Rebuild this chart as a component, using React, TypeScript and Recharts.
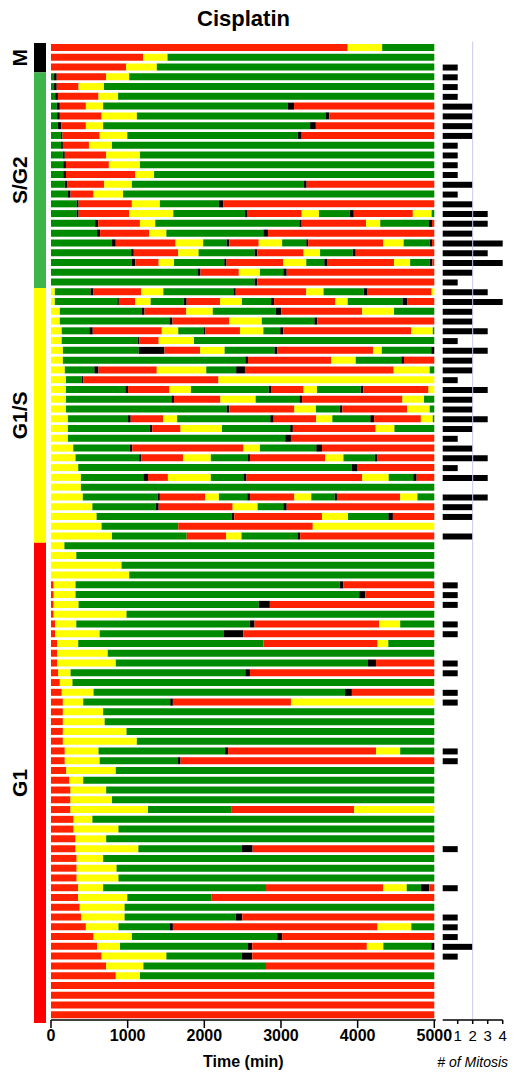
import { BarChart, Bar, XAxis, YAxis, Cell, ReferenceLine } from "recharts";

// each track: list of [phase, end time in min]
type Seg = [string, number];

const TIME_TICKS = [0, 1000, 2000, 3000, 4000, 5000];
const MITOSIS_TICKS = [1, 2, 3, 4];

const PHASE_COLORS: Record<string, string> = {
  R: "#FF2200",
  Y: "#FFFF00",
  G: "#008A00",
  K: "#000000",
};

const groupNames = ["M", "S/G2", "G1/S", "G1"];
const groupColors = ["#000000", "#3DB54A", "#FFFF00", "#FF0000"];

const mTracks: Seg[][] = [
  [["R", 3870], ["Y", 4320], ["G", 5000]],
  [["R", 1200], ["Y", 1520], ["G", 5000]],
  [["R", 980], ["Y", 1380], ["G", 5000]],
];

const sg2Tracks: Seg[][] = [
  [["G", 40], ["K", 75], ["R", 720], ["Y", 1020], ["G", 5000]],
  [["G", 40], ["K", 75], ["R", 360], ["Y", 690], ["G", 5000]],
  [["G", 55], ["K", 90], ["R", 620], ["Y", 875], ["G", 5000]],
  [["G", 75], ["K", 115], ["R", 455], ["Y", 680], ["G", 3090], ["K", 3170], ["R", 5000]],
  [["G", 80], ["K", 115], ["R", 660], ["Y", 1120], ["G", 3580], ["K", 3630], ["R", 5000]],
  [["G", 90], ["K", 135], ["R", 455], ["Y", 680], ["G", 3380], ["K", 3455], ["R", 5000]],
  [["G", 130], ["K", 150], ["R", 635], ["Y", 995], ["G", 3220], ["K", 3270], ["R", 5000]],
  [["G", 130], ["K", 155], ["R", 495], ["Y", 795], ["G", 5000]],
  [["G", 155], ["K", 180], ["R", 720], ["Y", 1160], ["G", 5000]],
  [["G", 160], ["K", 195], ["R", 755], ["Y", 1160], ["G", 5000]],
  [["G", 160], ["K", 195], ["R", 1100], ["Y", 1345], ["G", 5000]],
  [["G", 180], ["K", 215], ["R", 695], ["Y", 1055], ["G", 3300], ["K", 3335], ["R", 5000]],
  [["G", 215], ["K", 255], ["R", 555], ["Y", 940], ["G", 5000]],
  [["G", 335], ["K", 360], ["R", 1055], ["Y", 1420], ["G", 2190], ["K", 2250], ["R", 5000]],
  [["G", 335], ["K", 360], ["R", 1020], ["Y", 1595], ["G", 2530], ["K", 2565], ["R", 3270], ["Y", 3495], ["G", 3895], ["K", 3950], ["R", 4720], ["Y", 4965], ["G", 5000]],
  [["G", 575], ["K", 615], ["R", 1160], ["Y", 1360], ["G", 3240], ["K", 3270], ["R", 4110], ["Y", 4295], ["G", 4930], ["K", 4970], ["R", 5000]],
  [["G", 600], ["K", 640], ["R", 1280], ["Y", 1505], ["G", 2770], ["K", 2830], ["R", 5000]],
  [["G", 795], ["K", 845], ["R", 1625], ["Y", 1985], ["G", 2290], ["K", 2325], ["R", 2710], ["Y", 3015], ["G", 3330], ["K", 3355], ["R", 4335], ["Y", 4600], ["G", 4940], ["K", 4970], ["R", 5000]],
  [["G", 1045], ["K", 1080], ["R", 1660], ["Y", 1925], ["G", 2655], ["K", 2690], ["R", 3295], ["Y", 3510], ["G", 3935], ["K", 3975], ["R", 5000]],
  [["G", 1055], ["K", 1100], ["R", 1405], ["Y", 1605], ["G", 2260], ["K", 2290], ["R", 3030], ["Y", 3330], ["G", 3565], ["K", 3600], ["R", 4475], ["Y", 4685], ["G", 4940], ["K", 4975], ["R", 5000]],
  [["G", 1910], ["K", 1950], ["R", 2450], ["Y", 2725], ["G", 3030], ["K", 3075], ["R", 5000]],
  [["G", 2655], ["K", 2690], ["R", 5000]],
];

const g1sTracks: Seg[][] = [
  [["Y", 50], ["G", 515], ["K", 555], ["R", 1175], ["Y", 1465], ["G", 2380], ["K", 2410], ["R", 3330], ["Y", 3555], ["G", 4080], ["K", 4130], ["R", 4965], ["Y", 5000]],
  [["Y", 50], ["G", 865], ["K", 885], ["R", 1100], ["Y", 1300], ["G", 1730], ["K", 1770], ["R", 2205], ["Y", 2490], ["G", 2870], ["K", 2910], ["R", 3710], ["Y", 3870], ["G", 4585], ["K", 4645], ["R", 5000]],
  [["Y", 115], ["G", 1180], ["K", 1220], ["R", 1765], ["Y", 2110], ["G", 2930], ["K", 3005], ["R", 4060], ["Y", 4475], ["G", 5000]],
  [["Y", 115], ["G", 1545], ["K", 1585], ["R", 2325], ["Y", 2750], ["G", 3435], ["K", 3475], ["R", 5000]],
  [["Y", 140], ["G", 500], ["K", 545], ["R", 1445], ["Y", 1660], ["G", 1990], ["K", 2015], ["R", 2465], ["Y", 2770], ["G", 2990], ["K", 3030], ["R", 4700], ["Y", 4980], ["G", 5000]],
  [["Y", 140], ["G", 1130], ["K", 1150], ["R", 1405], ["Y", 1865], ["G", 5000]],
  [["Y", 155], ["G", 1145], ["K", 1480], ["R", 1945], ["Y", 2265], ["G", 2915], ["K", 2950], ["R", 4200], ["Y", 4315], ["G", 4960], ["K", 5000]],
  [["Y", 155], ["G", 2535], ["K", 2570], ["R", 3655], ["Y", 3975], ["G", 4570], ["K", 4605], ["R", 5000]],
  [["Y", 180], ["G", 565], ["K", 620], ["R", 1380], ["Y", 2025], ["G", 2415], ["K", 2530], ["R", 4470], ["Y", 4940], ["G", 5000]],
  [["Y", 195], ["G", 400], ["K", 420], ["R", 2185], ["Y", 5000]],
  [["Y", 195], ["G", 970], ["K", 1005], ["R", 1545], ["Y", 1825], ["G", 2840], ["K", 2870], ["R", 3295], ["Y", 3470], ["G", 4040], ["K", 4075], ["R", 4925], ["Y", 5000]],
  [["Y", 195], ["G", 1570], ["K", 1605], ["R", 2210], ["Y", 2670], ["G", 3240], ["K", 3275], ["R", 4585], ["Y", 4865], ["G", 5000]],
  [["Y", 195], ["G", 2290], ["K", 2325], ["R", 3175], ["Y", 3455], ["G", 3765], ["K", 3800], ["R", 4645], ["Y", 4940], ["G", 5000]],
  [["Y", 220], ["G", 1005], ["K", 1040], ["R", 1465], ["Y", 1645], ["G", 2860], ["K", 2905], ["R", 3460], ["Y", 3670], ["G", 4165], ["K", 4215], ["R", 4825], ["Y", 4980], ["G", 5000]],
  [["Y", 220], ["G", 1290], ["K", 1320], ["R", 1690], ["Y", 2230], ["G", 3120], ["K", 3155], ["R", 4235], ["Y", 4480], ["G", 5000]],
  [["Y", 220], ["G", 3055], ["K", 3130], ["R", 5000]],
  [["Y", 290], ["G", 1025], ["K", 1060], ["R", 2510], ["Y", 2725], ["G", 3460], ["K", 3535], ["R", 5000]],
  [["Y", 320], ["G", 1150], ["K", 1180], ["R", 1725], ["Y", 2085], ["G", 2570], ["K", 2595], ["R", 3575], ["Y", 3815], ["G", 4225], ["K", 4260], ["R", 5000]],
  [["Y", 355], ["G", 3925], ["K", 4000], ["R", 5000]],
  [["Y", 390], ["G", 1205], ["K", 1265], ["R", 1525], ["Y", 2085], ["G", 2510], ["K", 2550], ["R", 4060], ["Y", 4405], ["G", 4725], ["K", 4770], ["R", 5000]],
  [["Y", 390], ["G", 5000]],
  [["Y", 415], ["G", 1390], ["K", 1420], ["R", 2010], ["Y", 2190], ["G", 2560], ["K", 2595], ["R", 3175], ["Y", 3395], ["G", 3700], ["K", 3730], ["R", 4555], ["Y", 4780], ["G", 5000]],
  [["Y", 540], ["G", 1365], ["K", 1405], ["R", 2370], ["Y", 2695], ["G", 3030], ["K", 3075], ["R", 5000]],
  [["Y", 595], ["G", 2355], ["K", 2390], ["R", 3535], ["Y", 3875], ["G", 4400], ["K", 4460], ["R", 5000]],
  [["Y", 660], ["G", 1660], ["R", 3415], ["Y", 5000]],
  [["Y", 795], ["G", 1770], ["R", 2285], ["Y", 2485], ["G", 3215], ["K", 3250], ["R", 5000]],
];

const g1Tracks: Seg[][] = [
  [["Y", 175], ["G", 5000]],
  [["Y", 330], ["G", 5000]],
  [["Y", 920], ["G", 5000]],
  [["Y", 1020], ["G", 5000]],
  [["R", 35], ["Y", 320], ["G", 3765], ["K", 3815], ["R", 5000]],
  [["R", 35], ["Y", 320], ["G", 4020], ["K", 4100], ["R", 5000]],
  [["R", 35], ["Y", 360], ["G", 2710], ["K", 2855], ["R", 5000]],
  [["R", 35], ["Y", 985], ["G", 5000]],
  [["R", 55], ["Y", 330], ["G", 2595], ["K", 2655], ["R", 4280], ["Y", 4555], ["G", 5000]],
  [["R", 55], ["Y", 635], ["G", 2250], ["K", 2510], ["R", 5000]],
  [["R", 80], ["Y", 355], ["G", 2770], ["R", 4260], ["Y", 4400], ["G", 5000]],
  [["R", 80], ["Y", 740], ["G", 5000]],
  [["R", 80], ["Y", 845], ["G", 4135], ["K", 4240], ["R", 5000]],
  [["R", 95], ["Y", 255], ["G", 2535], ["K", 2595], ["R", 5000]],
  [["R", 115], ["Y", 280], ["G", 5000]],
  [["R", 140], ["Y", 555], ["G", 3835], ["K", 3925], ["R", 5000]],
  [["R", 155], ["Y", 420], ["G", 1555], ["K", 1590], ["R", 3130], ["Y", 5000]],
  [["R", 155], ["Y", 680], ["G", 5000]],
  [["R", 155], ["Y", 700], ["G", 5000]],
  [["R", 155], ["Y", 985], ["G", 5000]],
  [["R", 155], ["Y", 1120], ["G", 5000]],
  [["R", 180], ["Y", 620], ["G", 2270], ["K", 2310], ["R", 4240], ["Y", 4555], ["G", 5000]],
  [["R", 180], ["Y", 635], ["G", 1650], ["K", 1690], ["R", 5000]],
  [["R", 200], ["Y", 845], ["G", 5000]],
  [["R", 240], ["Y", 420], ["G", 5000]],
  [["R", 255], ["Y", 720], ["G", 5000]],
  [["R", 255], ["Y", 795], ["G", 5000]],
  [["R", 255], ["Y", 1265], ["G", 2350], ["R", 3955], ["Y", 5000]],
  [["R", 295], ["Y", 540], ["G", 5000]],
  [["R", 295], ["Y", 880], ["G", 5000]],
  [["R", 320], ["Y", 720], ["G", 5000]],
  [["R", 320], ["Y", 1140], ["G", 2490], ["K", 2630], ["R", 5000]],
  [["R", 335], ["Y", 680], ["G", 5000]],
  [["R", 335], ["Y", 855], ["G", 5000]],
  [["R", 335], ["Y", 880], ["G", 5000]],
  [["R", 355], ["Y", 680], ["G", 2805], ["R", 4335], ["Y", 4640], ["G", 4825], ["K", 4935], ["R", 5000]],
  [["R", 355], ["Y", 995], ["G", 2090], ["R", 5000]],
  [["R", 375], ["Y", 960], ["G", 5000]],
  [["R", 395], ["Y", 960], ["G", 2410], ["K", 2495], ["R", 5000]],
  [["R", 455], ["Y", 880], ["G", 1545], ["K", 1590], ["R", 4260], ["Y", 4700], ["G", 5000]],
  [["R", 555], ["Y", 1055], ["G", 2950], ["K", 3015], ["R", 5000]],
  [["R", 600], ["Y", 900], ["G", 2570], ["K", 2625], ["R", 4120], ["Y", 4335], ["G", 4960], ["K", 5000]],
  [["R", 660], ["Y", 1505], ["G", 2490], ["K", 2625], ["R", 5000]],
  [["R", 720], ["Y", 1205], ["G", 2805], ["R", 5000]],
  [["R", 845], ["Y", 1160], ["G", 5000]],
  [["R", 5000]],
  [["R", 5000]],
  [["R", 5000]],
  [["R", 5000]],
];

// number of mitoses per track, same order as the tracks
const mCounts = [0, 0, 1];
const sg2Counts = [1, 1, 1, 2, 2, 2, 2, 1, 1, 1, 1, 2, 1, 2, 3, 3, 2, 4, 3, 4, 2, 1];
const g1sCounts = [3, 4, 2, 2, 3, 1, 3, 2, 2, 1, 3, 2, 2, 3, 2, 1, 2, 3, 1, 3, 0, 3, 2, 2, 0, 2];
const g1Counts = [
  0, 0, 0, 0, 1, 1, 1, 0, 1, 1, 0, 0, 1, 1, 0, 1, 1, 0, 0, 0, 0, 1, 1, 0, 0,
  0, 0, 0, 0, 0, 0, 1, 0, 0, 0, 1, 0, 0, 1, 1, 1, 2, 1, 0, 0, 0, 0, 0, 0,
];

const tracks = [...mTracks, ...sg2Tracks, ...g1sTracks, ...g1Tracks];
const counts = [...mCounts, ...sg2Counts, ...g1sCounts, ...g1Counts];
const groupSizes = [mTracks.length, sg2Tracks.length, g1sTracks.length, g1Tracks.length];

const MAX_SEG = Math.max(...tracks.map((t) => t.length));
const segKeys = Array.from({ length: MAX_SEG }, (_, k) => `s${k}`);

// stacked durations per track
const trackData = tracks.map((segs, i) => {
  const row: Record<string, string | number> = { id: `c${i + 1}` };
  let prev = 0;
  segKeys.forEach((key, k) => {
    if (k < segs.length) {
      row[key] = segs[k][1] - prev;
      prev = segs[k][1];
    } else {
      row[key] = 0;
    }
  });
  return row;
});

const countData = counts.map((n, i) => ({ id: `c${i + 1}`, n }));

const phaseRow: Record<string, string | number> = { name: "phase" };
groupSizes.forEach((n, i) => (phaseRow[`p${i}`] = n));
const phaseData = [phaseRow];
const totalTracks = tracks.length;

const renderPhaseLabel = (text: string) => (props: any) => {
  const vb = props.viewBox ?? props;
  const cx = Number(vb.x) - 14;
  const cy = Number(vb.y) + Number(vb.height) / 2;
  return (
    <text
      x={cx}
      y={cy}
      transform={`rotate(-90 ${cx} ${cy})`}
      textAnchor="middle"
      dominantBaseline="central"
      fontSize={21}
      fontWeight={700}
      fill="#000"
    >
      {text}
    </text>
  );
};

export default function App() {
  return (
    <div
      style={{
        position: "absolute",
        left: 0,
        top: 0,
        width: 523,
        height: 1079,
        background: "#fff",
        fontFamily: "'Liberation Sans', Arial, sans-serif",
      }}
    >
      {/* TITLE */}
      <div
        style={{
          position: "absolute",
          left: 51,
          top: 8,
          width: 385,
          textAlign: "center",
          fontSize: 22,
          lineHeight: "22px",
          fontWeight: 700,
        }}
      >
        Cisplatin
      </div>

      {/* PHASE BAR ON THE LEFT */}
      <div style={{ position: "absolute", left: 0, top: 0 }}>
        <BarChart
          width={52}
          height={1079}
          data={phaseData}
          margin={{ top: 43, right: 0, bottom: 56, left: 28 }}
          barCategoryGap={0}
        >
          <XAxis dataKey="name" hide />
          <YAxis type="number" hide domain={[0, totalTracks]} reversed />
          {groupNames.map((g, i) => (
            <Bar
              key={g}
              dataKey={`p${i}`}
              stackId="p"
              fill={groupColors[i]}
              barSize={12}
              isAnimationActive={false}
              label={renderPhaseLabel(g)}
            />
          ))}
        </BarChart>
      </div>

      {/* CELL TRACKS */}
      <div style={{ position: "absolute", left: 0, top: 0 }}>
        <BarChart
          width={462}
          height={1079}
          layout="vertical"
          data={trackData}
          margin={{ top: 41.5, right: 26.2, bottom: 0, left: 51 }}
          barCategoryGap={0}
        >
          <XAxis
            type="number"
            domain={[0, 5000]}
            ticks={TIME_TICKS}
            height={59}
            padding={{ left: 0, right: 1.5 }}
            tickSize={8}
            axisLine={{ stroke: "#000", strokeWidth: 1.5 }}
            tickLine={{ stroke: "#000", strokeWidth: 1.5 }}
            tick={{ fill: "#000", fontSize: 16, fontWeight: 700 }}
            label={{
              value: "Time (min)",
              position: "insideBottom",
              offset: 12,
              fill: "#000",
              fontSize: 16,
              fontWeight: 700,
            }}
          />
          <XAxis
            xAxisId="top"
            orientation="top"
            type="number"
            domain={[0, 5000]}
            height={0}
            tick={false}
            tickLine={false}
            axisLine={{ stroke: "#000", strokeWidth: 1.5 }}
          />
          <YAxis
            type="category"
            dataKey="id"
            width={0}
            tick={false}
            tickLine={false}
            padding={{ top: 1.5, bottom: 0 }}
            axisLine={{ stroke: "#000", strokeWidth: 1.5 }}
          />
          <YAxis
            yAxisId="right"
            orientation="right"
            type="category"
            dataKey="id"
            width={0}
            tick={false}
            tickLine={false}
            axisLine={{ stroke: "#8C8C8C", strokeWidth: 3 }}
          />
          {segKeys.map((key, k) => (
            <Bar key={key} dataKey={key} stackId="t" barSize={7} isAnimationActive={false}>
              {tracks.map((segs, i) => (
                <Cell key={`${key}-${i}`} fill={segs[k] ? PHASE_COLORS[segs[k][0]] : "none"} />
              ))}
            </Bar>
          ))}
        </BarChart>
      </div>

      {/* NUMBER OF MITOSES */}
      <div style={{ position: "absolute", left: 430, top: 0 }}>
        <BarChart
          width={93}
          height={1079}
          layout="vertical"
          data={countData}
          margin={{ top: 41.5, right: 20.3, bottom: 0, left: 12.7 }}
          barCategoryGap={0}
        >
          <XAxis
            type="number"
            domain={[0, 4]}
            ticks={MITOSIS_TICKS}
            height={59}
            tickSize={4}
            tickMargin={6}
            axisLine={{ stroke: "#000", strokeWidth: 1.5 }}
            tickLine={{ stroke: "#000", strokeWidth: 1.5 }}
            tick={{ fill: "#000", fontSize: 15 }}
            label={{
              value: "# of Mitosis",
              position: "insideBottom",
              offset: 12,
              fill: "#000",
              fontSize: 14,
              fontStyle: "italic",
            }}
          />
          <XAxis
            xAxisId="top"
            orientation="top"
            type="number"
            domain={[0, 4]}
            height={0}
            tick={false}
            tickLine={false}
            axisLine={{ stroke: "#000", strokeWidth: 1.5 }}
          />
          <YAxis
            type="category"
            dataKey="id"
            width={0}
            tick={false}
            tickLine={false}
            padding={{ top: 1.5, bottom: 0 }}
            axisLine={{ stroke: "#000", strokeWidth: 1.5 }}
          />
          <YAxis
            yAxisId="right"
            orientation="right"
            type="category"
            dataKey="id"
            width={0}
            tick={false}
            tickLine={false}
            axisLine={{ stroke: "#000", strokeWidth: 1.5 }}
          />
          <ReferenceLine x={2} stroke="#C8C8F0" />
          <Bar dataKey="n" fill="#000" barSize={6} isAnimationActive={false} />
        </BarChart>
      </div>
    </div>
  );
}
